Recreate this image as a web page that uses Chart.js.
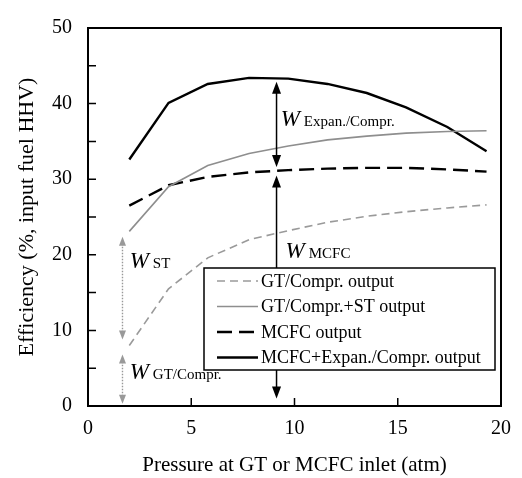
<!DOCTYPE html>
<html><head><meta charset="utf-8">
<script src="https://cdn.jsdelivr.net/npm/chart.js@4/dist/chart.umd.min.js"></script>
<style>html,body{margin:0;padding:0;background:#fff}#wrap{width:522px;height:478px;position:relative}</style>
</head><body><div id="wrap"><canvas id="c" width="522" height="478"></canvas></div>
<script>
// ---- data ----
const pressure = [2.0, 3.9, 5.8, 7.8, 9.7, 11.6, 13.5, 15.4, 17.4, 19.3];
const gtOutput = [8.0, 15.5, 19.6, 22.0, 23.2, 24.3, 25.1, 25.7, 26.2, 26.6];
const gtStOutput = [23.1, 29.0, 31.8, 33.4, 34.4, 35.2, 35.7, 36.1, 36.3, 36.4];
const mcfcOutput = [26.5, 29.2, 30.3, 30.9, 31.2, 31.4, 31.5, 31.5, 31.3, 31.0];
const mcfcExpanOutput = [32.6, 40.1, 42.6, 43.4, 43.3, 42.6, 41.4, 39.5, 36.9, 33.7];
const seriesLabels = ['GT/Compr. output', 'GT/Compr.+ST output', 'MCFC output', 'MCFC+Expan./Compr. output'];
const xTickValues = [0, 5, 10, 15, 20];
const yTickValues = [0, 10, 20, 30, 40, 50];
const yMinorTicks = [5, 15, 25, 35, 45];
const xInnerTicks = [5, 10, 15];
// annotation arrows: [x, yTop, yBottom]
const arrowExpan = [9.13, 42.9, 31.6];
const arrowMcfc = [9.13, 30.5, 1.0];
const arrowSt = [1.67, 22.4, 8.8];
const arrowGt = [1.67, 6.8, 0.3];
// annotation texts: [x, y(baseline), subscript]
const annoTexts = [
  [9.33, 37.0, 'Expan./Compr.'],
  [9.57, 19.6, 'MCFC'],
  [2.02, 18.2, 'ST'],
  [2.02, 3.6, 'GT/Compr.']
];

const FONT = "'Liberation Serif', 'Times New Roman', serif";
const toXY = ys => pressure.map((x, i) => ({x: x, y: ys[i]}));

const styles = [
  {color: '#9a9a9a', width: 1.6, dash: [8, 5]},
  {color: '#8e8e8e', width: 1.6, dash: []},
  {color: '#000000', width: 2.4, dash: [15, 7]},
  {color: '#000000', width: 2.4, dash: []}
];
const seriesValues = [gtOutput, gtStOutput, mcfcOutput, mcfcExpanOutput];

const datasets = seriesValues.map((v, i) => ({
  label: seriesLabels[i],
  data: toXY(v),
  borderColor: styles[i].color,
  borderWidth: styles[i].width,
  borderDash: styles[i].dash,
  pointRadius: 0,
  tension: 0,
  fill: false
}));

function drawArrow(ctx, x, yTop, yBot, color, lw, dash, hw, hl) {
  ctx.save();
  ctx.strokeStyle = color; ctx.fillStyle = color; ctx.lineWidth = lw;
  ctx.setLineDash(dash);
  ctx.beginPath(); ctx.moveTo(x, yTop + hl * 0.8); ctx.lineTo(x, yBot - hl * 0.8); ctx.stroke();
  ctx.setLineDash([]);
  ctx.beginPath(); ctx.moveTo(x, yTop); ctx.lineTo(x - hw / 2, yTop + hl); ctx.lineTo(x + hw / 2, yTop + hl); ctx.closePath(); ctx.fill();
  ctx.beginPath(); ctx.moveTo(x, yBot); ctx.lineTo(x - hw / 2, yBot - hl); ctx.lineTo(x + hw / 2, yBot - hl); ctx.closePath(); ctx.fill();
  ctx.restore();
}

const decor = {
  id: 'decor',
  afterDatasetsDraw(chart) {
    const ctx = chart.ctx, xs = chart.scales.x, ys = chart.scales.y, a = chart.chartArea;
    // arrows
    const arr = (d, col, lw, dash, hw, hl) => drawArrow(ctx, xs.getPixelForValue(d[0]), ys.getPixelForValue(d[1]), ys.getPixelForValue(d[2]), col, lw, dash, hw, hl);
    arr(arrowExpan, '#000', 1.5, [], 9, 12);
    arr(arrowMcfc, '#000', 1.5, [], 9, 12);
    arr(arrowSt, '#999', 1.4, [1.5, 1.5], 7, 9);
    arr(arrowGt, '#999', 1.4, [1.5, 1.5], 7, 9);
    // annotation texts
    ctx.save();
    ctx.fillStyle = '#000'; ctx.textBaseline = 'alphabetic'; ctx.textAlign = 'left';
    annoTexts.forEach(t => {
      const px = xs.getPixelForValue(t[0]), py = ys.getPixelForValue(t[1]);
      ctx.font = 'italic 23px ' + FONT;
      ctx.fillText('W', px, py);
      const w = ctx.measureText('W').width;
      ctx.font = '15px ' + FONT;
      ctx.fillText(t[2], px + w + 4, py);
    });
    ctx.restore();
    // legend
    ctx.save();
    const lx = 204, ly = 268, lw = 291, lh = 102;
    ctx.fillStyle = '#fff'; ctx.fillRect(lx, ly, lw, lh);
    ctx.strokeStyle = '#000'; ctx.lineWidth = 1.5; ctx.strokeRect(lx, ly, lw, lh);
    ctx.font = '18px ' + FONT; ctx.textBaseline = 'middle'; ctx.fillStyle = '#000';
    chart.data.datasets.forEach((ds, i) => {
      const yy = ly + 13 + i * 25.5;
      ctx.save();
      ctx.strokeStyle = ds.borderColor; ctx.lineWidth = ds.borderWidth; ctx.setLineDash(ds.borderDash);
      ctx.beginPath(); ctx.moveTo(lx + 13, yy); ctx.lineTo(lx + 54, yy); ctx.stroke();
      ctx.restore();
      ctx.fillText(ds.label, lx + 57, yy + 1);
    });
    ctx.restore();
    // frame and inward ticks
    ctx.save();
    ctx.strokeStyle = '#000'; ctx.lineWidth = 2;
    ctx.strokeRect(a.left, a.top, a.right - a.left, a.bottom - a.top);
    ctx.lineWidth = 1.5;
    ctx.beginPath();
    yTickValues.concat(yMinorTicks).forEach(v => {
      const py = ys.getPixelForValue(v);
      ctx.moveTo(a.left, py); ctx.lineTo(a.left + 8, py);
    });
    xInnerTicks.forEach(v => {
      const px = xs.getPixelForValue(v);
      ctx.moveTo(px, a.bottom); ctx.lineTo(px, a.bottom - 8);
    });
    ctx.stroke();
    ctx.restore();
  }
};

new Chart(document.getElementById('c'), {
  type: 'line',
  data: {datasets: datasets},
  options: {
    responsive: false,
    animation: false,
    devicePixelRatio: 1,
    layout: {padding: {top: 14, right: 19, left: 0, bottom: 0}},
    plugins: {legend: {display: false}, tooltip: {enabled: false}},
    scales: {
      x: {
        type: 'linear', min: 0, max: 20,
        afterFit: s => { s.height = 72; },
        afterBuildTicks: s => { s.ticks = xTickValues.map(v => ({value: v})); },
        grid: {display: false, drawTicks: false},
        border: {display: false},
        ticks: {color: '#000', padding: 11, font: {family: FONT, size: 20}, maxRotation: 0},
        title: {display: true, text: 'Pressure at GT or MCFC inlet (atm)', color: '#000', font: {family: FONT, size: 21}, padding: {top: 0, bottom: 0}}
      },
      y: {
        min: 0, max: 50,
        afterFit: s => { s.width = 88; },
        afterBuildTicks: s => { s.ticks = yTickValues.map(v => ({value: v})); },
        grid: {display: false, drawTicks: false},
        border: {display: false},
        ticks: {color: '#000', padding: 16, font: {family: FONT, size: 20}},
        title: {display: true, text: 'Efficiency (%, input fuel HHV)', color: '#000', font: {family: FONT, size: 22}, padding: {top: 14, bottom: 0}}
      }
    }
  },
  plugins: [decor]
});
</script></body></html>
